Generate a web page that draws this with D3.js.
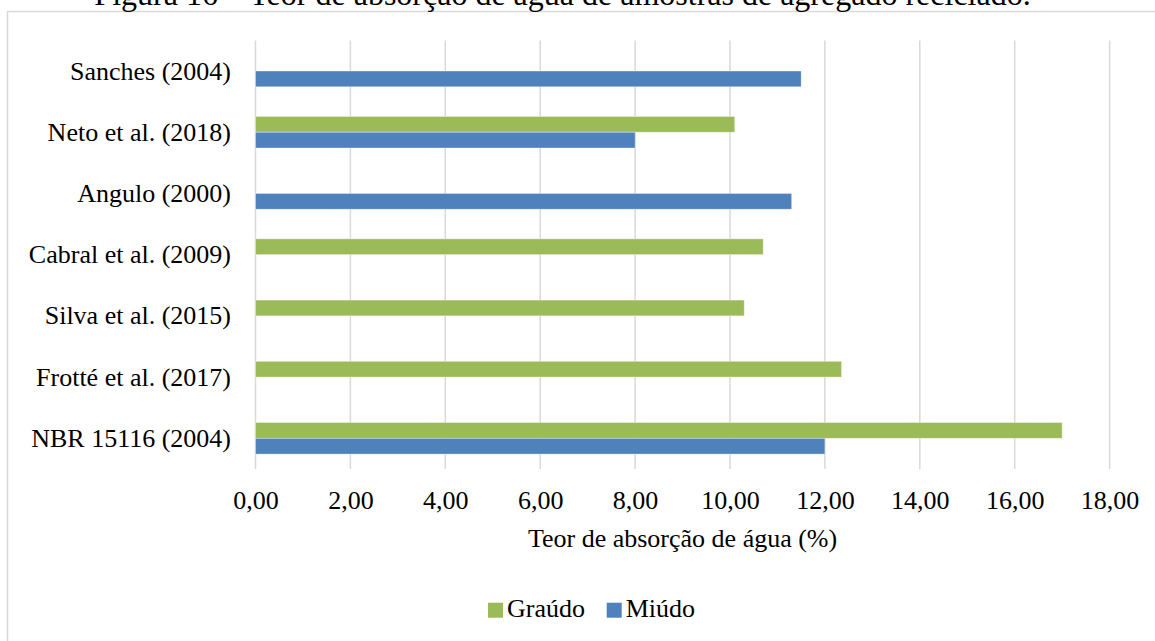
<!DOCTYPE html>
<html>
<head>
<meta charset="utf-8">
<script src="https://cdn.jsdelivr.net/npm/d3@7"></script>
<style>
  html, body { margin: 0; padding: 0; background: #fff; overflow: hidden; }
  svg { display: block; }
  text { font-family: "Liberation Serif", "Times New Roman", serif; fill: #000; }
</style>
</head>
<body>
<svg id="chart" width="1155" height="641"></svg>
<script>
const title = "Figura 16 – Teor de absorção de água de amostras de agregado reciclado.";
const categories = ["Sanches (2004)", "Neto et al. (2018)", "Angulo (2000)", "Cabral et al. (2009)", "Silva et al. (2015)", "Frotté et al. (2017)", "NBR 15116 (2004)"];
const seriesNames = ["Graúdo", "Miúdo"];
const grauado = [null, 10.1, null, 10.7, 10.3, 12.35, 17.0];
const miudo = [11.5, 8.0, 11.3, null, null, null, 12.0];
const tickValues = [0, 2, 4, 6, 8, 10, 12, 14, 16, 18];
const xTitle = "Teor de absorção de água (%)";
const colors = ["#9BBB59", "#4F81BD"];

const svg = d3.select("#chart");
const fs = 26;

// chart frame
svg.append("rect").attr("x", 7.5).attr("y", 11.5).attr("width", 1200).attr("height", 700)
  .attr("fill", "#fff").attr("stroke", "#d9d9d9").attr("stroke-width", 1.5);

// title (cut off at top, as in the source page)
svg.append("text").attr("x", 562.5).attr("y", 5).attr("text-anchor", "middle")
  .attr("font-size", 32).text(title);

const x = d3.scaleLinear().domain([0, 18]).range([255.5, 1109.6]);
const y = d3.scaleBand().domain(categories).range([40.4, 468.9]).paddingInner(0.484).paddingOuter(0.242);
const ySub = d3.scaleBand().domain(seriesNames).range([0, y.bandwidth()]);

// gridlines
svg.append("g").selectAll("line").data(tickValues).join("line")
  .attr("x1", d => x(d)).attr("x2", d => x(d))
  .attr("y1", 40.4).attr("y2", 468.9)
  .attr("stroke", "#d9d9d9").attr("stroke-width", 1.5);

// bars
const series = [grauado, miudo];
series.forEach((vals, si) => {
  const data = categories.map((c, i) => ({ c, v: vals[i] })).filter(d => d.v != null);
  svg.append("g").selectAll("rect").data(data).join("rect")
    .attr("x", x(0))
    .attr("y", d => y(d.c) + ySub(seriesNames[si]))
    .attr("width", d => x(d.v) - x(0))
    .attr("height", ySub.bandwidth())
    .attr("fill", colors[si])
    .attr("stroke", "#ffffff").attr("stroke-opacity", 0.5).attr("stroke-width", 0.75);
});

// category axis labels
const yAxis = d3.axisLeft(y).tickSize(0).tickPadding(0);
const yg = svg.append("g").attr("transform", "translate(231,0)").call(yAxis);
yg.select(".domain").remove();
yg.selectAll("text").attr("font-size", fs).attr("font-family", "Liberation Serif").attr("fill", "#000").attr("dy", "0.33em");

// x axis tick labels
const fmt = d => d3.format(".2f")(d).replace(".", ",");
const xAxis = d3.axisBottom(x).tickValues(tickValues).tickFormat(fmt).tickSize(0).tickPadding(0);
const xg = svg.append("g").attr("transform", "translate(0,509)").call(xAxis);
xg.select(".domain").remove();
xg.selectAll("text").attr("font-size", fs).attr("font-family", "Liberation Serif").attr("fill", "#000").attr("dy", "0");

// x axis title
svg.append("text").attr("x", (x(0) + x(18)) / 2).attr("y", 547).attr("text-anchor", "middle")
  .attr("font-size", fs).text(xTitle);

// legend
const legend = svg.append("g");
const legendX = [488, 606.7];
seriesNames.forEach((n, i) => {
  legend.append("rect").attr("x", legendX[i]).attr("y", 602.7).attr("width", 15).attr("height", 15).attr("fill", colors[i]);
  legend.append("text").attr("x", legendX[i] + 19).attr("y", 616.7).attr("font-size", fs).text(n);
});
</script>
</body>
</html>
